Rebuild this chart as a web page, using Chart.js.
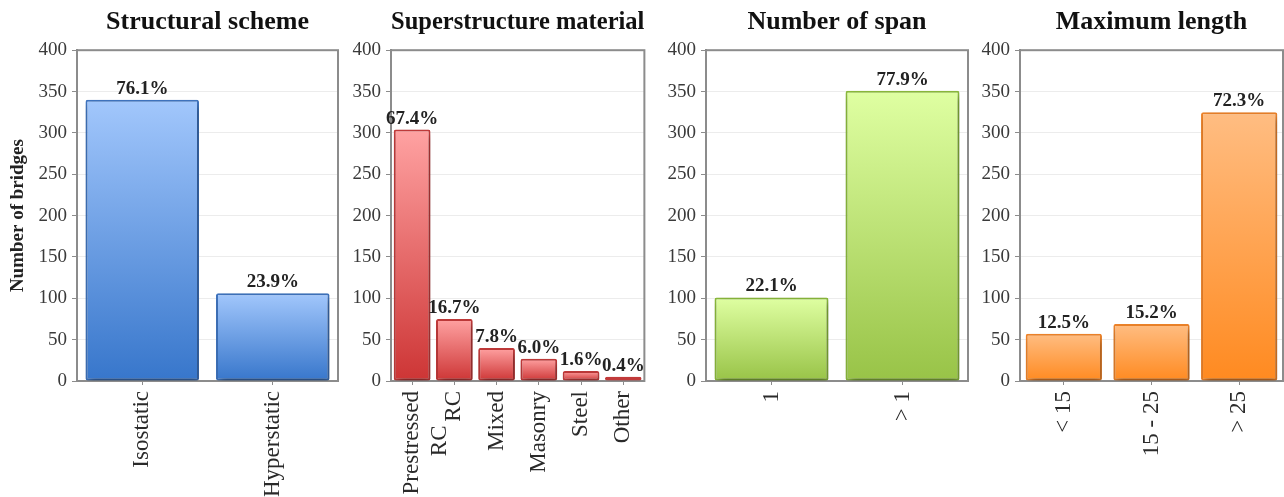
<!DOCTYPE html>
<html>
<head>
<meta charset="utf-8">
<title>Bridge inventory</title>
<script src="https://cdn.jsdelivr.net/npm/chart.js@4.4.1/dist/chart.umd.min.js"></script>
<style>
  html, body { margin: 0; padding: 0; background: #fff; }
  #wrap { position: relative; width: 1284px; height: 497px; overflow: hidden; }
  .panel { position: absolute; top: 0; height: 497px; }
</style>
</head>
<body>
<div id="wrap">
  <div class="panel" style="left:0;width:342px"><canvas id="schemeChart"></canvas></div>
  <div class="panel" style="left:342px;width:316px"><canvas id="materialChart"></canvas></div>
  <div class="panel" style="left:658px;width:312px"><canvas id="spanChart"></canvas></div>
  <div class="panel" style="left:970px;width:314px"><canvas id="lengthChart"></canvas></div>
</div>
<script>
// bridge counts per class, with the share of each class printed on top
const schemeLabels = ['Isostatic', 'Hyperstatic'];
const schemeCounts = [340, 106];
const schemeShares = ['76.1%', '23.9%'];

// trailing spaces keep the short second line centred under the long one
const materialLabels = [['Prestressed', 'RC      '], 'RC', 'Mixed', 'Masonry', 'Steel', 'Other'];
const materialCounts = [304, 75, 40, 27, 12, 5];
const materialShares = ['67.4%', '16.7%', '7.8%', '6.0%', '1.6%', '0.4%'];

const spanLabels = ['1', '> 1'];
const spanCounts = [101, 351];
const spanShares = ['22.1%', '77.9%'];

const lengthLabels = ['< 15', '15 - 25', '> 25'];
const lengthCounts = [57, 69, 325];
const lengthShares = ['12.5%', '15.2%', '72.3%'];

const yMax = 400;
const yStep = 50;

const SERIF = "'Liberation Serif', 'Times New Roman', serif";

const palettes = {
    blue:   { top: '#a2c7fc', bottom: '#3776cb', border: '#3f74bf' },
    red:    { top: '#ffa2a2', bottom: '#cd3535', border: '#c13a3a' },
    green:  { top: '#dfffa2', bottom: '#98c347', border: '#8ab93b' },
    orange: { top: '#ffbd82', bottom: '#ff8a20', border: '#ee8329' }
};

// each bar gets its own gradient, light at the top and dark at the zero line
function barGradient(colors) {
    return (context) => {
        const chart = context.chart;
        if (!chart.chartArea || context.type !== 'data') return colors.bottom;
        const y = chart.scales.y;
        const top = y.getPixelForValue(context.raw);
        const base = y.getPixelForValue(0);
        const g = chart.ctx.createLinearGradient(0, top, 0, base);
        g.addColorStop(0, colors.top);
        g.addColorStop(1, colors.bottom);
        return g;
    };
}

const barShadow = {
    id: 'barShadow',
    beforeDatasetsDraw(chart) {
        const ctx = chart.ctx;
        ctx.save();
        ctx.shadowColor = 'rgba(0, 0, 0, 0.4)';
        ctx.shadowBlur = 7;
        ctx.shadowOffsetX = 2;
        ctx.shadowOffsetY = 4;
    },
    afterDatasetsDraw(chart) {
        chart.ctx.restore();
    }
};

const plotFrame = {
    id: 'plotFrame',
    beforeDatasetsDraw(chart) {
        const { ctx, chartArea: a } = chart;
        ctx.save();
        ctx.strokeStyle = '#8c8c8c';
        ctx.lineWidth = 2;
        ctx.strokeRect(a.left, a.top, a.right - a.left, a.bottom - a.top);
        ctx.restore();
    }
};

const shareLabels = {
    id: 'shareLabels',
    afterDatasetsDraw(chart) {
        const { ctx } = chart;
        const shares = chart.data.datasets[0].shares;
        ctx.save();
        ctx.font = `bold 19px ${SERIF}`;
        ctx.fillStyle = '#222';
        ctx.textAlign = 'center';
        ctx.textBaseline = 'alphabetic';
        chart.getDatasetMeta(0).data.forEach((bar, i) => {
            ctx.fillText(shares[i], bar.x, bar.y - 6);
        });
        ctx.restore();
    }
};

function makePanel(id, cfg) {
    const ctx = document.getElementById(id).getContext('2d');
    return new Chart(ctx, {
        type: 'bar',
        data: {
            labels: cfg.labels,
            datasets: [{
                data: cfg.counts,
                shares: cfg.shares,
                backgroundColor: barGradient(cfg.colors),
                borderColor: cfg.colors.border,
                borderWidth: 2,
                borderRadius: 2,
                borderSkipped: false,
                categoryPercentage: 1.0,
                barPercentage: 0.87
            }]
        },
        options: {
            responsive: true,
            maintainAspectRatio: false,
            animation: false,
            layout: { padding: { left: 0, right: cfg.padRight, top: 0, bottom: 0 } },
            plugins: {
                legend: { display: false },
                tooltip: { enabled: false },
                title: {
                    display: true,
                    text: cfg.title,
                    fullSize: false,
                    color: '#111',
                    font: { family: SERIF, size: 26, weight: 'bold', lineHeight: 1.2 },
                    padding: { top: 7, bottom: 12 }
                }
            },
            scales: {
                x: {
                    grid: { display: true, offset: false, drawOnChartArea: false, tickLength: 4, tickColor: '#8c8c8c' },
                    border: { color: '#8c8c8c', width: 2 },
                    ticks: {
                        color: '#2a2a2a',
                        font: { family: SERIF, size: 23 },
                        minRotation: 90,
                        maxRotation: 90,
                        autoSkip: false,
                        padding: 6
                    },
                    afterFit(scale) { scale.height = 116; }
                },
                y: {
                    min: 0,
                    max: yMax,
                    grid: { color: '#ececec', tickLength: 5, tickColor: '#8c8c8c' },
                    border: { color: '#8c8c8c', width: 2 },
                    ticks: {
                        stepSize: yStep,
                        color: '#3a3a3a',
                        font: { family: SERIF, size: 19 },
                        padding: 5
                    },
                    title: {
                        display: !!cfg.yTitle,
                        text: cfg.yTitle || '',
                        color: '#222',
                        font: { family: SERIF, size: 19, weight: 'bold' },
                        padding: { top: 7, bottom: 0 }
                    },
                    afterFit(scale) { scale.width = cfg.axisWidth; }
                }
            }
        },
        plugins: [plotFrame, barShadow, shareLabels]
    });
}

makePanel('schemeChart', {
    title: 'Structural scheme', yTitle: 'Number of bridges',
    labels: schemeLabels, counts: schemeCounts, shares: schemeShares,
    colors: palettes.blue, axisWidth: 77, padRight: 4
});
makePanel('materialChart', {
    title: 'Superstructure material',
    labels: materialLabels, counts: materialCounts, shares: materialShares,
    colors: palettes.red, axisWidth: 49, padRight: 4
});
makePanel('spanChart', {
    title: 'Number of span',
    labels: spanLabels, counts: spanCounts, shares: spanShares,
    colors: palettes.green, axisWidth: 48, padRight: 2
});
makePanel('lengthChart', {
    title: 'Maximum length',
    labels: lengthLabels, counts: lengthCounts, shares: lengthShares,
    colors: palettes.orange, axisWidth: 50, padRight: 1
});
</script>
</body>
</html>
